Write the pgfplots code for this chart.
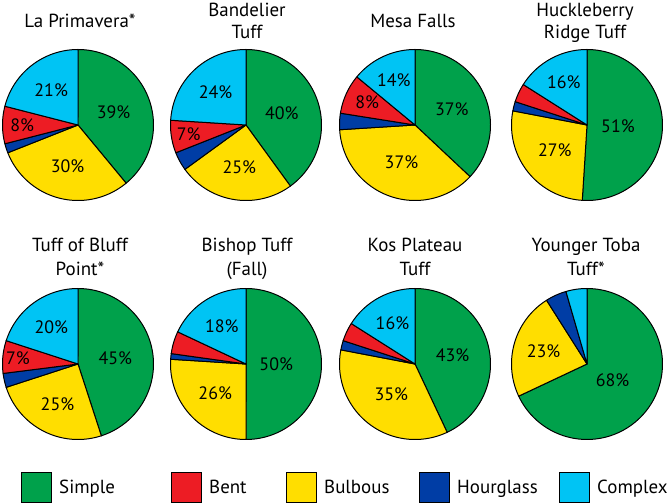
\documentclass[border=0pt]{standalone}
\usepackage{fontspec}
\setmainfont{PT Sans}
\usepackage{pgfplots}
\pgfplotsset{compat=1.18}
\definecolor{cS}{HTML}{00A14B}
\definecolor{cBe}{HTML}{ED1C24}
\definecolor{cBu}{HTML}{FFDE00}
\definecolor{cH}{HTML}{003DA5}
\definecolor{cC}{HTML}{00C4F4}
\newcommand\tfont{\fontsize{19}{23}\selectfont}
\newcommand\labfont{\fontsize{18}{22}\selectfont}
% slice: #1 cumulative start (%), #2 value (%), #3 colour
\newcommand\slice[3]{\addplot[draw=black, line width=1pt, line join=round, fill=#3, domain=90-3.6*(#1+#2):90-3.6*(#1), samples=90] ({cos(x)},{sin(x)}) -- (axis cs:0,0) -- cycle;}
% label: #1 cumulative start, #2 value, #3 radius
\newcommand\plab[3]{\node[font=\labfont] at (axis cs:{#3*cos(90-3.6*(#1+0.5*#2))},{#3*sin(90-3.6*(#1+0.5*#2))}) {#2\%};}
% pie: simple, bulbous, hourglass, bent, complex
\newcommand\pie[5]{%
 \slice{0}{#1}{cS}
 \slice{#1}{#2}{cBu}
 \slice{#1+#2}{#3}{cH}
 \slice{#1+#2+#3}{#4}{cBe}
 \slice{#1+#2+#3+#4}{#5}{cC}}
\pgfplotsset{pieax/.style={width=151bp,height=151bp,scale only axis,hide axis,xmin=-1,xmax=1,ymin=-1,ymax=1,clip=false,anchor=center}}
\begin{document}
\begin{tikzpicture}
\useasboundingbox (0,0) rectangle (671bp,504bp);
% ---- row 1
\begin{axis}[pieax, at={(78bp,379bp)}]
 \pie{39}{30}{2}{8}{21}
 \plab{0}{39}{0.5} \plab{39}{30}{0.56} \plab{71}{8}{0.74} \plab{79}{21}{0.58}
\end{axis}
\begin{axis}[pieax, at={(246bp,379bp)}]
 \pie{40}{25}{4}{7}{24}
 \plab{0}{40}{0.5} \plab{40}{25}{0.56} \plab{69}{7}{0.77} \plab{76}{24}{0.59}
\end{axis}
\begin{axis}[pieax, at={(415bp,379bp)}]
 \pie{37}{37}{3.5}{8.5}{14}
 \plab{0}{37}{0.53} \plab{37}{37}{0.53} \node[font=\labfont] at (axis cs:{0.7*cos(154.8)},{0.7*sin(154.8)}) {8\%}; \plab{86}{14}{0.66}
\end{axis}
\begin{axis}[pieax, at={(587bp,379bp)}]
 \pie{51}{27}{2}{4}{16}
 \plab{0}{51}{0.41} \plab{51}{27}{0.54} \plab{84}{16}{0.64}
\end{axis}
% ---- row 2
\begin{axis}[pieax, at={(78bp,140bp)}]
 \pie{45}{25}{3}{7}{20}
 \plab{0}{45}{0.5} \plab{45}{25}{0.6} \plab{73}{7}{0.8} \plab{80}{20}{0.6}
\end{axis}
\begin{axis}[pieax, at={(246bp,140bp)}]
 \pie{50}{26}{1.2}{4.8}{18}
 \plab{0}{50}{0.4} \plab{50}{26}{0.56} \plab{82}{18}{0.6}
\end{axis}
\begin{axis}[pieax, at={(415bp,140bp)}]
 \pie{43}{35}{2}{4}{16}
 \plab{0}{43}{0.51} \plab{43}{35}{0.51} \plab{84}{16}{0.62}
\end{axis}
\begin{axis}[pieax, at={(587bp,140bp)}]
 \slice{0}{68}{cS}
 \slice{68}{23}{cBu}
 \slice{91}{4.5}{cH}
 \slice{95.5}{4.5}{cC}
 \plab{0}{68}{0.4} \plab{68}{23}{0.6}
\end{axis}
% ---- titles
\node[font=\tfont, anchor=base] at (80bp,476bp) {La Primavera*};
\node[font=\tfont, anchor=base] at (247bp,487bp) {Bandelier};
\node[font=\tfont, anchor=base] at (247bp,465bp) {Tuff};
\node[font=\tfont, anchor=base] at (413bp,476bp) {Mesa Falls};
\node[font=\tfont, anchor=base] at (585bp,487bp) {Huckleberry};
\node[font=\tfont, anchor=base] at (585bp,465bp) {Ridge Tuff};
\node[font=\tfont, anchor=base] at (80bp,252bp) {Tuff of Bluff};
\node[font=\tfont, anchor=base] at (80bp,228bp) {Point*};
\node[font=\tfont, anchor=base] at (247bp,252bp) {Bishop Tuff};
\node[font=\tfont, anchor=base] at (247bp,228bp) {(Fall)};
\node[font=\tfont, anchor=base] at (415bp,252bp) {Kos Plateau};
\node[font=\tfont, anchor=base] at (415bp,228bp) {Tuff};
\node[font=\tfont, anchor=base] at (586bp,252bp) {Younger Toba};
\node[font=\tfont, anchor=base] at (586bp,228bp) {Tuff*};
% ---- legend
\foreach \x/\c/\t in {21/cS/Simple, 171/cBe/Bent, 286/cBu/Bulbous, 419/cH/Hourglass, 559/cC/Complex}{
  \fill[\c, draw=black, line width=1pt] (\x bp,2bp) rectangle ++(30bp,30bp);
  \node[font=\tfont, anchor=base west, inner sep=0pt] at (\x bp+38bp,11bp) {\t};
}
\end{tikzpicture}
\end{document}
